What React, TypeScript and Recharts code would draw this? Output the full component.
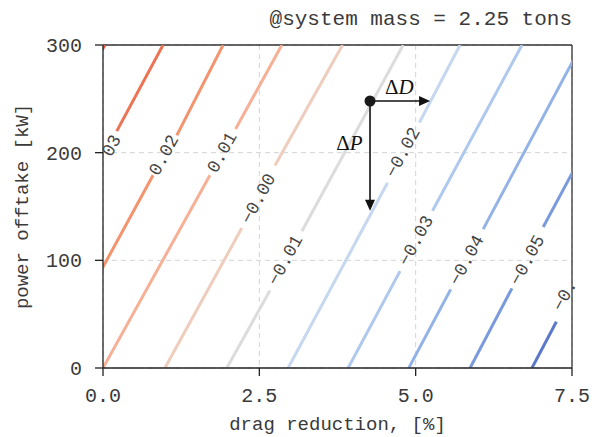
import React from 'react'
import {
  LineChart, Line, XAxis, YAxis, CartesianGrid,
  ReferenceDot, ReferenceLine, Label,
} from 'recharts'

// contour levels (drawn left to right)
const levelLabels = ['0.04', '0.03', '0.02', '0.01', '−0.00', '−0.01', '−0.02', '−0.03', '−0.04', '−0.05', '−0.06']
const lineColors = [
  '#e35b3c', '#ec7353', '#f3946f', '#f6b096', '#efcdbd', '#dcdcdc',
  '#c6d7f0', '#afc9ee', '#93b3e6', '#7b9ade', '#5c79c9',
]
// drag reduction where each contour crosses P = 0 and P = 300 kW
const dragAtZero = [-2.77, -1.84, -0.88, 0.0, 0.99, 1.98, 2.96, 3.92, 4.89, 5.87, 6.86]
const dragAtTop = [0.03, 0.96, 1.92, 2.86, 3.83, 4.8, 5.71, 6.7, 7.65, 8.6, 9.6]
// inline label gaps: [drag, power] where the line stops and restarts
const gapStart: (number[] | null)[] = [
  null, [-0.19, 179], [0.8, 179], [1.71, 179], [2.22, 130], [2.67, 72],
  [4.55, 172], [4.75, 90], [5.56, 73], [6.54, 74], [7.25, 43],
]
const gapEnd: (number[] | null)[] = [
  null, [0.22, 220], [1.18, 216], [2.12, 222], [2.75, 188], [3.18, 127],
  [5.06, 228], [5.27, 146], [6.08, 129], [7.04, 131], [7.8, 100],
]
const labelAt: (number[] | null)[] = [
  null, [0.06, 197.5], [0.98, 197.5], [1.91, 200], [2.49, 157], [2.92, 100],
  [4.8, 200], [5.01, 118], [5.82, 100], [6.79, 100], [7.47, 76],
]

const xTicks = [0, 2.5, 5, 7.5]
const yTicks = [0, 100, 200, 300]

// operating point and the two arrows
const opPoint = { d: 4.27, p: 248 }
const dragArrowTip = { d: 5.23, p: 248 }
const powerArrowTip = { d: 4.27, p: 146 }
const dragLabelAt = { d: 4.74, p: 260.7 }
const powerLabelAt = { d: 3.94, p: 208.7 }

const MONO = '"Liberation Mono", "Courier New", monospace'
const SERIF = '"Liberation Serif", "Times New Roman", serif'
const LABEL_ANGLE = -61.5

const segments = levelLabels.flatMap((_, i) => {
  const color = lineColors[i]
  const bottom = { d: dragAtZero[i], p: 0 }
  const top = { d: dragAtTop[i], p: 300 }
  const lo = gapStart[i]
  const hi = gapEnd[i]
  if (!lo || !hi) return [{ key: `c${i}`, color, pts: [bottom, top] }]
  return [
    { key: `c${i}a`, color, pts: [bottom, { d: lo[0], p: lo[1] }] },
    { key: `c${i}b`, color, pts: [{ d: hi[0], p: hi[1] }, top] },
  ]
})

const XTick = ({ x, y, payload }: any) => (
  <text x={x} y={y} dy={24} textAnchor="middle" fontFamily={MONO} fontSize={20} fill="#3a3a3a">
    {Number(payload.value).toFixed(1)}
  </text>
)

const YTick = ({ x, y, payload }: any) => (
  <text x={x} y={y} dx={-11} dy={7} textAnchor="end" fontFamily={MONO} fontSize={20} fill="#3a3a3a">
    {payload.value}
  </text>
)

const contourLabel = (text: string) => (props: any) => (
  <text
    x={props.cx}
    y={props.cy}
    transform={`rotate(${LABEL_ANGLE} ${props.cx} ${props.cy})`}
    textAnchor="middle"
    dominantBaseline="central"
    fontFamily={MONO}
    fontSize={18}
    fill="#444"
    clipPath={props.clipPath}
  >
    {text}
  </text>
)

const mathLabel = (sym: string) => (props: any) => (
  <text
    x={props.cx}
    y={props.cy}
    textAnchor="middle"
    dominantBaseline="central"
    fontFamily={SERIF}
    fontSize={21}
    fill="#111"
  >
    <tspan>Δ</tspan>
    <tspan fontStyle="italic">{sym}</tspan>
  </text>
)

const rightHead = (props: any) => (
  <path d={`M${props.cx},${props.cy} L${props.cx - 11},${props.cy - 5} L${props.cx - 11},${props.cy + 5} Z`} fill="#111" />
)
const downHead = (props: any) => (
  <path d={`M${props.cx},${props.cy} L${props.cx - 5},${props.cy - 11} L${props.cx + 5},${props.cy - 11} Z`} fill="#111" />
)

export default function App() {
  return (
    <div style={{ position: 'relative', width: 590, height: 429 }}>
      <div
        style={{
          position: 'absolute', top: 1, right: 26, fontFamily: MONO,
          fontSize: 21, lineHeight: '21px', color: '#3a3a3a', whiteSpace: 'pre',
        }}
      >
        @system mass = 2.25 tons
      </div>
      <LineChart width={590} height={429} margin={{ top: 37, right: 26, left: 0, bottom: 0 }}>
        <CartesianGrid stroke="#d4d4d4" strokeDasharray="5 4" strokeWidth={1} />
        <XAxis
          type="number"
          dataKey="d"
          domain={[0, 7.5]}
          ticks={xTicks}
          allowDataOverflow
          height={69}
          tickSize={8}
          axisLine={{ stroke: '#222', strokeWidth: 1.3 }}
          tickLine={{ stroke: '#222', strokeWidth: 1.3 }}
          tick={<XTick />}
        >
          <Label
            content={({ viewBox }: any) => (
              <text
                x={viewBox.x + viewBox.width / 2}
                y={viewBox.y + 62}
                textAnchor="middle"
                fontFamily={MONO}
                fontSize={19}
                fill="#3a3a3a"
              >
                drag reduction, [%]
              </text>
            )}
          />
        </XAxis>
        <YAxis
          type="number"
          domain={[0, 300]}
          ticks={yTicks}
          allowDataOverflow
          width={95}
          tickSize={8}
          axisLine={{ stroke: '#222', strokeWidth: 1.3 }}
          tickLine={{ stroke: '#222', strokeWidth: 1.3 }}
          tick={<YTick />}
        >
          <Label
            content={({ viewBox }: any) => {
              const cx = viewBox.x + 20
              const cy = viewBox.y + viewBox.height / 2
              return (
                <text
                  x={cx}
                  y={cy}
                  transform={`rotate(-90 ${cx} ${cy})`}
                  textAnchor="middle"
                  fontFamily={MONO}
                  fontSize={19}
                  fill="#3a3a3a"
                >
                  power offtake [kW]
                </text>
              )
            }}
          />
        </YAxis>
        <ReferenceLine y={300} stroke="#333" strokeWidth={1.3} />
        <ReferenceLine x={7.5} stroke="#333" strokeWidth={1.3} />
        {segments.map(s => (
          <Line
            key={s.key}
            data={s.pts}
            dataKey="p"
            type="linear"
            stroke={s.color}
            strokeWidth={3}
            dot={false}
            activeDot={false}
            isAnimationActive={false}
          />
        ))}
        {levelLabels.map((lab, i) => {
          const at = labelAt[i]
          if (!at) return null
          return (
            <ReferenceDot
              key={`l${i}`}
              x={at[0]}
              y={at[1]}
              r={0}
              ifOverflow="hidden"
              shape={contourLabel(lab)}
            />
          )
        })}
        <ReferenceLine
          segment={[{ x: opPoint.d, y: opPoint.p }, { x: dragArrowTip.d - 0.1, y: dragArrowTip.p }]}
          stroke="#111"
          strokeWidth={1.6}
          ifOverflow="visible"
        />
        <ReferenceLine
          segment={[{ x: opPoint.d, y: opPoint.p }, { x: powerArrowTip.d, y: powerArrowTip.p + 6 }]}
          stroke="#111"
          strokeWidth={1.6}
          ifOverflow="visible"
        />
        <ReferenceDot x={dragArrowTip.d} y={dragArrowTip.p} r={0} shape={rightHead} />
        <ReferenceDot x={powerArrowTip.d} y={powerArrowTip.p} r={0} shape={downHead} />
        <ReferenceDot x={opPoint.d} y={opPoint.p} r={5.5} fill="#1a1a1a" stroke="none" />
        <ReferenceDot x={dragLabelAt.d} y={dragLabelAt.p} r={0} shape={mathLabel('D')} />
        <ReferenceDot x={powerLabelAt.d} y={powerLabelAt.p} r={0} shape={mathLabel('P')} />
      </LineChart>
    </div>
  )
}
